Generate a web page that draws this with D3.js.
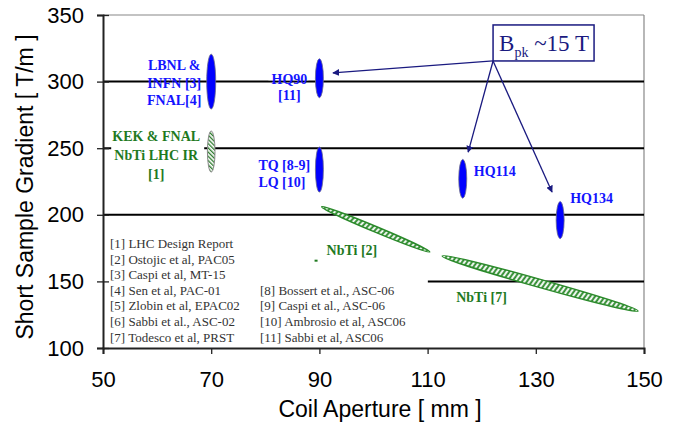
<!DOCTYPE html>
<html>
<head>
<meta charset="utf-8">
<script src="https://cdn.jsdelivr.net/npm/d3@7"></script>
<style>
  body { margin: 0; background: #fff; }
  svg { display: block; }
</style>
</head>
<body>
<script>
// axis ticks
const xTicks = [50, 70, 90, 110, 130, 150]
const yTicks = [100, 150, 200, 250, 300, 350]
const gridFull = [300, 250, 200]
const gridPartial = [150]

// Nb3Sn magnets (blue): aperture [mm], gradient [T/m], spread +/- [T/m]
const nb3snAperture = [70, 90, 90, 116.5, 134.5]
const nb3snGradient = [300, 302.5, 234, 227, 196]
const nb3snSpread = [20.6, 14.6, 16.9, 14.6, 13.9]

// NbTi LHC IR point (hatched)
const nbtiIrAperture = [70]
const nbtiIrGradient = [247.5]
const nbtiIrSpread = [15.4]

// NbTi scaling bands: [aperture, gradient] start -> end
const nbtiBandStart = [[90.4, 206.1], [112.7, 169.1]]
const nbtiBandEnd = [[110.4, 172.1], [148.9, 127.8]]

// B_pk ~15 T arrows: from box corner to the magnets
const arrowFrom = [122.1, 315.5]
const arrowTo = [[92.5, 306.5], [117.5, 247], [133, 217.1]]

const refsLeft = ['[1] LHC Design Report', '[2] Ostojic et al, PAC05', '[3] Caspi et al, MT-15',
    '[4] Sen et al, PAC-01', '[5] Zlobin et al, EPAC02', '[6] Sabbi et al., ASC-02', '[7] Todesco et al, PRST']
const refsRight = ['[8] Bossert et al., ASC-06', '[9] Caspi et al., ASC-06',
    '[10] Ambrosio et al, ASC06', '[11] Sabbi et al, ASC06']

{
    let width = 673
    let height = 434
    let blue = '#1414ff'
    let green = '#1f7a1f'
    let navy = '#1a1a80'
    let svg = d3.select('body').append('svg')
        .attr('width', width)
        .attr('height', height)

    let x = d3.scaleLinear().domain([50, 150]).range([103, 644])
    let y = d3.scaleLinear().domain([100, 350]).range([348, 15])

    let defs = svg.append('defs')
    // green band hatch
    let p1 = defs.append('pattern').attr('id', 'band')
        .attr('patternUnits', 'userSpaceOnUse')
        .attr('width', 4).attr('height', 10)
        .attr('patternTransform', 'rotate(20)')
    p1.append('rect').attr('width', 4).attr('height', 10).attr('fill', '#2b8a2b')
    p1.append('rect').attr('x', 1.2).attr('width', 2).attr('height', 10).attr('fill', '#fff')
    // LHC IR hatch
    let p2 = defs.append('pattern').attr('id', 'irhatch')
        .attr('patternUnits', 'userSpaceOnUse')
        .attr('width', 3).attr('height', 3)
        .attr('patternTransform', 'rotate(-45)')
    p2.append('rect').attr('width', 3).attr('height', 3).attr('fill', '#fff')
    p2.append('rect').attr('width', 1.3).attr('height', 3).attr('fill', '#2a7a2a')
    defs.append('marker').attr('id', 'arr')
        .attr('viewBox', '0 0 10 10').attr('refX', 9).attr('refY', 5)
        .attr('markerWidth', 7).attr('markerHeight', 7)
        .attr('markerUnits', 'userSpaceOnUse')
        .attr('orient', 'auto')
        .append('path').attr('d', 'M0,0 L10,5 L0,10 z').attr('fill', navy)

    // frame top / right
    svg.append('line')
        .attr('x1', x(50)).attr('x2', x(150)).attr('y1', y(350)).attr('y2', y(350))
        .attr('stroke', '#888').attr('stroke-width', 1.2)
    svg.append('line')
        .attr('x1', x(150)).attr('x2', x(150)).attr('y1', y(350)).attr('y2', y(100))
        .attr('stroke', '#888').attr('stroke-width', 1.2)

    // gridlines
    svg.selectAll('line.grid').data(gridFull)
        .enter().append('line')
        .attr('class', 'grid')
        .attr('x1', x(50)).attr('x2', x(150))
        .attr('y1', d => y(d)).attr('y2', d => y(d))
        .attr('stroke', '#000').attr('stroke-width', 2)
    svg.selectAll('line.gridp').data(gridPartial)
        .enter().append('line')
        .attr('class', 'gridp')
        .attr('x1', x(110)).attr('x2', x(150))
        .attr('y1', d => y(d)).attr('y2', d => y(d))
        .attr('stroke', '#000').attr('stroke-width', 2)

    // legend (white box)
    let lg = svg.append('g')
    lg.append('rect')
        .attr('x', x(50) + 2).attr('y', 229)
        .attr('width', x(110) - x(50) - 2).attr('height', y(100) - 230)
        .attr('fill', '#fff')
    lg.selectAll('text.l').data(refsLeft)
        .enter().append('text')
        .attr('x', 110)
        .attr('y', (d, i) => 248 + i * 15.6)
        .attr('font-family', 'Liberation Serif, serif')
        .attr('font-size', 13)
        .attr('fill', '#333')
        .text(d => d)
    lg.selectAll('text.r').data(refsRight)
        .enter().append('text')
        .attr('x', 260)
        .attr('y', (d, i) => 248 + (i + 3) * 15.6)
        .attr('font-family', 'Liberation Serif, serif')
        .attr('font-size', 13)
        .attr('fill', '#333')
        .text(d => d)

    // axes
    let ya = svg.append('g').attr('transform', `translate(${x(50)},0)`)
        .call(d3.axisLeft(y).tickValues(yTicks).tickSize(6).tickPadding(13))
    let xa = svg.append('g').attr('transform', `translate(0,${y(100)})`)
        .call(d3.axisBottom(x).tickValues(xTicks).tickSize(6).tickPadding(17))
    ;[ya, xa].forEach(a => {
        a.select('.domain').attr('stroke', '#222').attr('stroke-width', 2)
        a.selectAll('line').attr('stroke', '#222').attr('stroke-width', 1.3)
        a.selectAll('text')
            .attr('font-family', 'Liberation Sans, Arial, sans-serif')
            .attr('font-size', 22)
            .attr('fill', '#000')
    })
    ya.selectAll('.tick line').attr('x2', -6).attr('x1', 6)
    xa.selectAll('.tick text').attr('dy', '0.71em')

    svg.append('text')
        .attr('x', 380).attr('y', 417)
        .attr('text-anchor', 'middle')
        .attr('font-family', 'Liberation Sans, Arial, sans-serif')
        .attr('font-size', 23)
        .text('Coil Aperture [ mm ]')
    svg.append('text')
        .attr('transform', 'translate(33,187) rotate(-90)')
        .attr('text-anchor', 'middle')
        .attr('font-family', 'Liberation Sans, Arial, sans-serif')
        .attr('font-size', 23)
        .text('Short Sample Gradient [ T/m ]')

    // NbTi bands
    svg.selectAll('ellipse.band').data(nbtiBandStart)
        .enter().append('ellipse')
        .attr('class', 'band')
        .each(function (d, i) {
            let e = nbtiBandEnd[i]
            let x0 = x(d[0]), y0 = y(d[1]), x1 = x(e[0]), y1 = y(e[1])
            let len = Math.hypot(x1 - x0, y1 - y0)
            let ang = Math.atan2(y1 - y0, x1 - x0) * 180 / Math.PI
            d3.select(this)
                .attr('cx', 0).attr('cy', 0)
                .attr('rx', len / 2).attr('ry', i === 0 ? 2.8 : 4)
                .attr('transform', `translate(${(x0 + x1) / 2},${(y0 + y1) / 2}) rotate(${ang})`)
        })
        .attr('fill', 'url(#band)')
        .attr('stroke', '#2b8a2b')
        .attr('stroke-width', 1.4)

    // NbTi LHC IR
    svg.selectAll('ellipse.ir').data(nbtiIrAperture)
        .enter().append('ellipse')
        .attr('class', 'ir')
        .attr('cx', d => x(d))
        .attr('cy', (d, i) => y(nbtiIrGradient[i]))
        .attr('rx', 3.8)
        .attr('ry', (d, i) => y(nbtiIrGradient[i] - nbtiIrSpread[i]) - y(nbtiIrGradient[i]))
        .attr('fill', 'url(#irhatch)')
        .attr('stroke', '#888').attr('stroke-width', 1)

    // Nb3Sn points
    svg.selectAll('ellipse.nb3sn').data(nb3snAperture)
        .enter().append('ellipse')
        .attr('class', 'nb3sn')
        .attr('cx', d => x(d))
        .attr('cy', (d, i) => y(nb3snGradient[i]))
        .attr('rx', (d, i) => i === 0 ? 4.5 : 4)
        .attr('ry', (d, i) => y(nb3snGradient[i] - nb3snSpread[i]) - y(nb3snGradient[i]))
        .attr('fill', '#0000ff')
        .attr('stroke', '#6a6a8a').attr('stroke-width', 0.8)

    // labels
    let lab = (px, py, lines, color, anchor, step) => {
        let t = svg.append('text')
            .attr('font-family', 'Liberation Serif, serif')
            .attr('font-weight', 'bold')
            .attr('font-size', 14)
            .attr('fill', color)
            .attr('text-anchor', anchor)
        lines.forEach((s, i) => {
            t.append('tspan').attr('x', px).attr('y', py + i * (step || 17)).text(s)
        })
        return t
    }
    let px = (i) => x(nb3snAperture[i]), py = (i) => y(nb3snGradient[i])
    lab(px(0) - 37, py(0) - 11.5, ['LBNL &', 'INFN [3]', 'FNAL[4]'], blue, 'middle', 17.5)
    svg.append('rect')
        .attr('x', px(1) - 51).attr('y', py(1) - 8)
        .attr('width', 40).attr('height', 10).attr('fill', '#fff')
    lab(px(1) - 30, py(1) + 5.5, ['HQ90', '[11]'], blue, 'middle', 16)
    lab(px(2) - 61, py(2) + 0.5, ['TQ [8-9]', 'LQ [10]'], blue, 'start', 17)
    lab(px(3) + 11, py(3) - 2.5, ['HQ114'], blue, 'start')
    lab(px(4) + 10, py(4) - 17.5, ['HQ134'], blue, 'start')

    let ix = x(nbtiIrAperture[0]), iy = y(nbtiIrGradient[0])
    svg.append('rect')
        .attr('x', ix - 100).attr('y', iy - 23)
        .attr('width', 93).attr('height', 55).attr('fill', '#fff')
    lab(ix - 55, iy - 10.5, ['KEK & FNAL', 'NbTi LHC IR', '[1]'], green, 'middle', 19)

    let b0 = nbtiBandStart[0], b1 = nbtiBandStart[1]
    lab(x(b0[0]) + 5, y(b0[1]) + 48, ['NbTi [2]'], green, 'start')
    lab(x(b1[0]) + 14, y(b1[1]) + 46, ['NbTi [7]'], green, 'start')
    svg.append('rect')
        .attr('x', x(b0[0]) - 7).attr('y', y(b0[1]) + 53)
        .attr('width', 3).attr('height', 2).attr('fill', green)

    // B_pk annotation
    let bx = x(arrowFrom[0]), by = y(arrowFrom[1])
    svg.selectAll('line.arrow').data(arrowTo)
        .enter().append('line')
        .attr('class', 'arrow')
        .attr('x1', bx).attr('y1', by)
        .attr('x2', d => x(d[0])).attr('y2', d => y(d[1]))
        .attr('stroke', navy).attr('stroke-width', 1.3)
        .attr('marker-end', 'url(#arr)')
    svg.append('rect')
        .attr('x', bx).attr('y', by - 36)
        .attr('width', 101).attr('height', 36)
        .attr('fill', '#fff')
        .attr('stroke', navy).attr('stroke-width', 1.5)
    let bt = svg.append('text')
        .attr('x', bx + 6).attr('y', by - 10)
        .attr('font-family', 'Liberation Serif, serif')
        .attr('font-size', 23)
        .attr('fill', navy)
    bt.append('tspan').text('B')
    bt.append('tspan').attr('font-size', 14).attr('dy', 6).text('pk')
    bt.append('tspan').attr('dy', -6).text(' ~15 T')
}
</script>
</body>
</html>
